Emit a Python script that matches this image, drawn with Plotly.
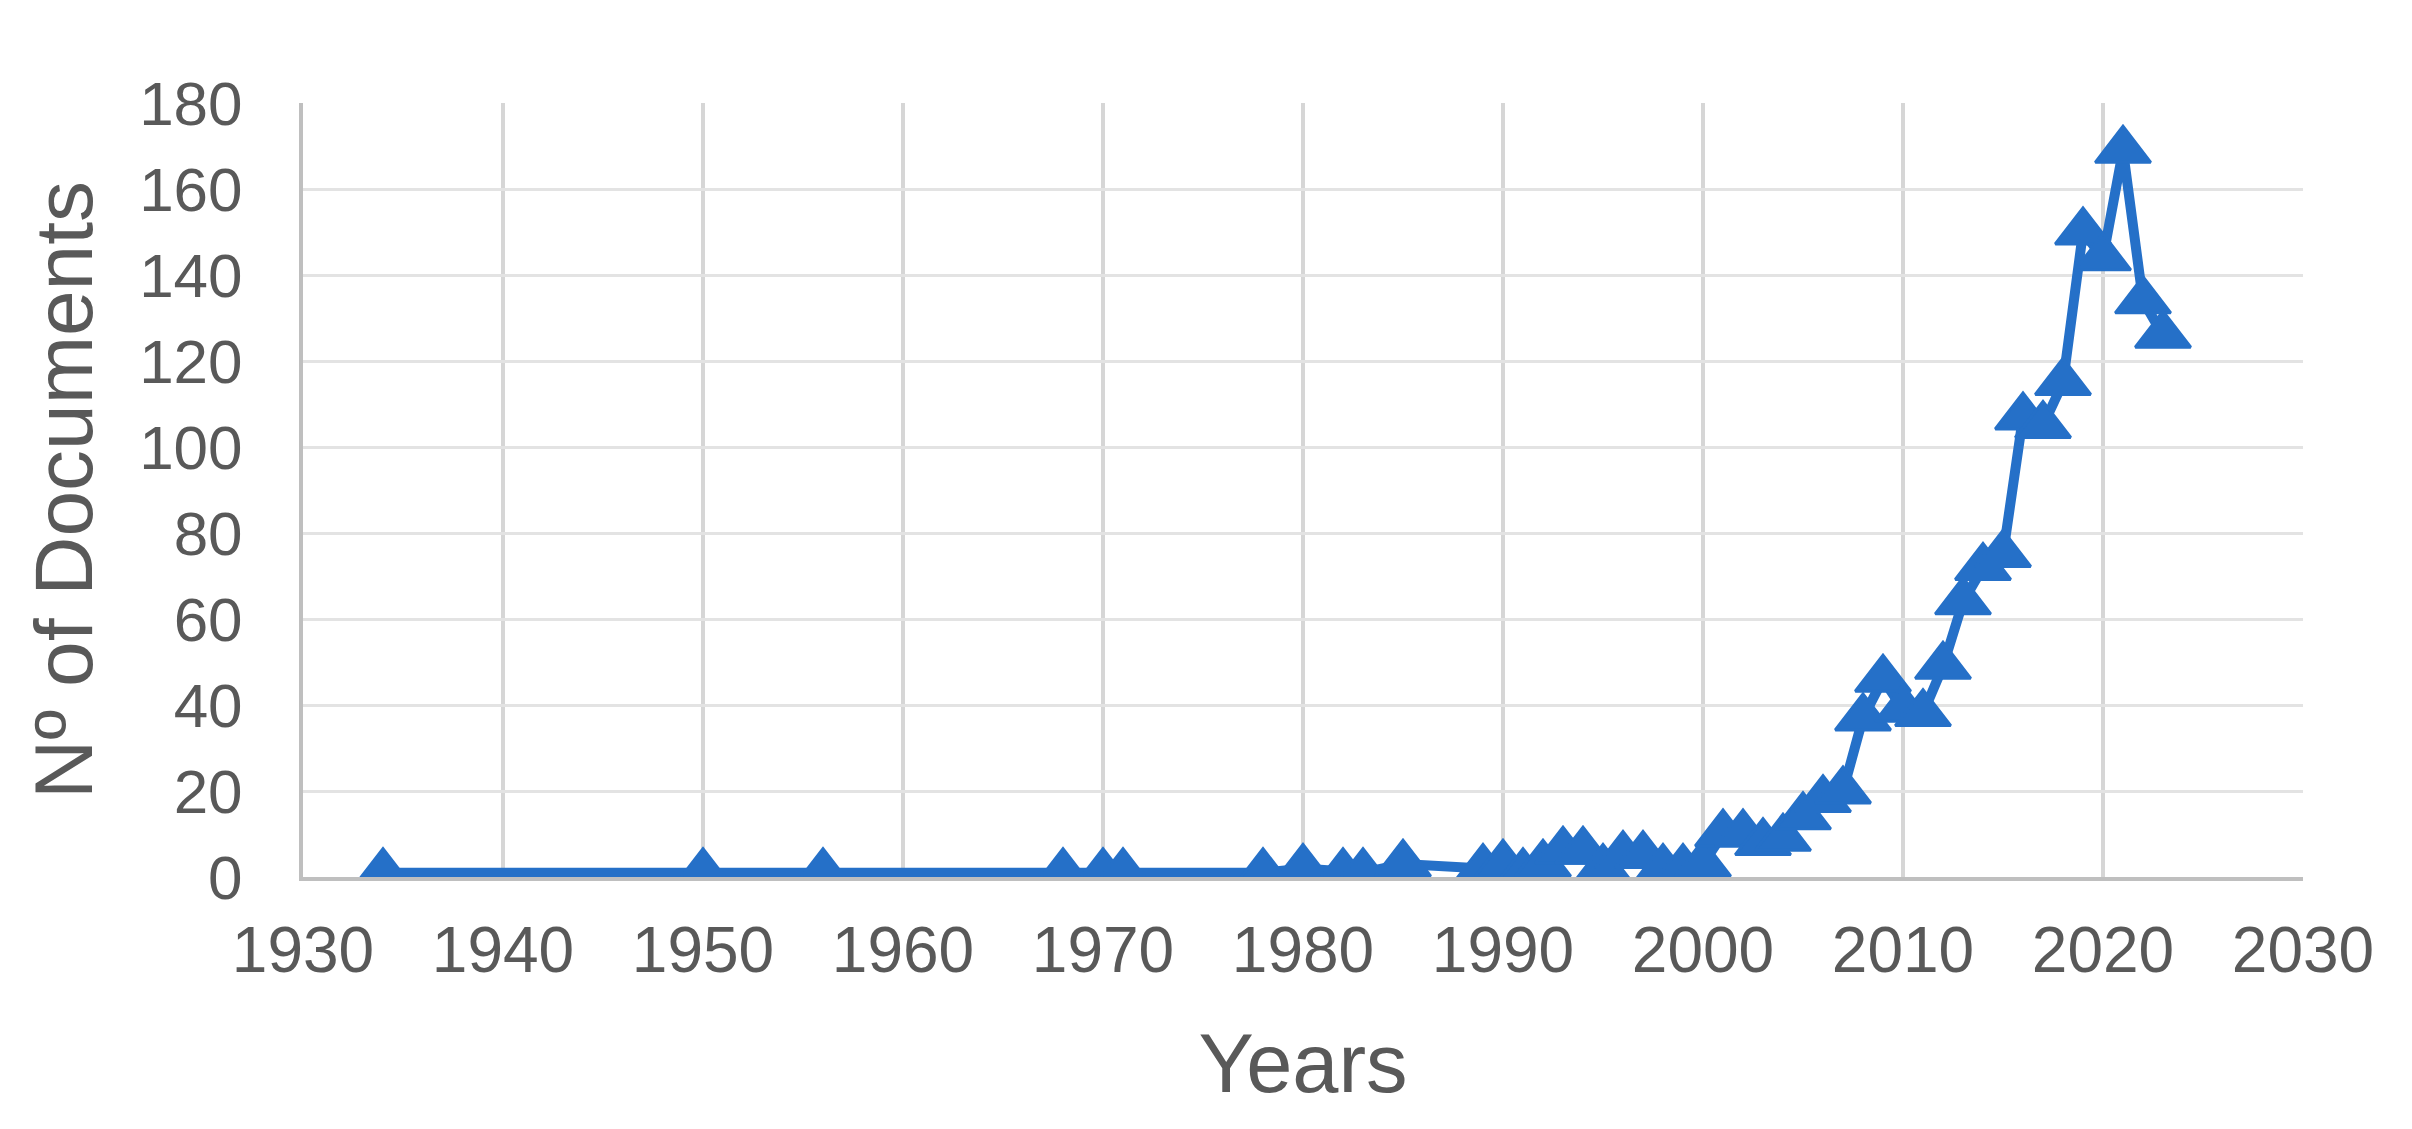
import plotly.graph_objects as go

years = [1934, 1950, 1956, 1968, 1970, 1971, 1978, 1980, 1982, 1983, 1985, 1989,
         1990, 1991, 1992, 1993, 1994, 1995, 1996, 1997, 1998, 1999, 2000,
         2001, 2002, 2003, 2004, 2005, 2006, 2007,
         2008, 2009, 2010, 2011, 2012, 2013, 2014, 2015, 2016, 2017, 2018,
         2019, 2020, 2021, 2022, 2023]
docs = [1, 1, 1, 1, 1, 1, 1, 2, 1, 1, 3, 2,
        3, 1, 3, 6, 6, 2, 5, 5, 2, 2, 3,
        10, 10, 8, 9, 14, 18, 20,
        37, 46, 39, 38, 49, 64, 72, 75, 107, 105, 115,
        150, 144, 169, 134, 126]

blue = '#2570C8'
grey_txt = '#595959'
font = 'Liberation Sans, Arial, sans-serif'

fig = go.Figure(go.Scatter(
    x=years, y=docs, mode='lines+markers',
    line=dict(color=blue, width=10),
    marker=dict(symbol='triangle-up', size=48, color=blue,
                line=dict(color=blue, width=3)),
    showlegend=False,
))

# page body keeps its default 8px margin, so the figure is sized to fit the window
fig.update_layout(
    width=2396, height=1113,
    paper_bgcolor='white', plot_bgcolor='white',
    margin=dict(l=295, r=101, t=95, b=244),
    font=dict(family=font, color=grey_txt, size=62),
)
fig.update_xaxes(
    range=[1930, 2030], dtick=10, tick0=1930,
    showgrid=True, gridcolor='#d6d6d6', gridwidth=4,
    showline=True, linecolor='#bfbfbf', linewidth=4,
    zeroline=False, ticks='', ticklabelstandoff=14,
    tickfont=dict(size=64),
    title=dict(text='Years', font=dict(size=83, color=grey_txt), standoff=50),
)
fig.update_yaxes(
    range=[0, 180], dtick=20, tick0=0,
    showgrid=True, gridcolor='#e3e3e3', gridwidth=3,
    showline=True, linecolor='#bfbfbf', linewidth=4,
    zeroline=False, ticks='', ticklabelstandoff=44,
    tickfont=dict(size=62),
    title=dict(text='Nº of Documents', font=dict(size=82, color=grey_txt), standoff=20),
)

fig.write_html('out.html')
